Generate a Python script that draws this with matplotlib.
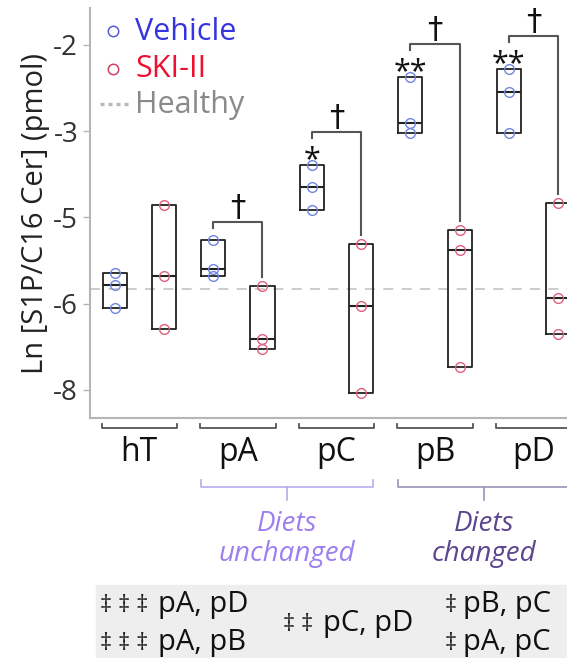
import numpy as np
import matplotlib
matplotlib.use("Agg")
import matplotlib.pyplot as plt
from matplotlib.transforms import blended_transform_factory

plt.rcParams['font.family'] = ['Open Sans', 'DejaVu Sans']

# ---------------- data ----------------
categories = ["hT", "pA", "pC", "pB", "pD"]
vehicle = [[-5.64, -5.78, -6.11],
           [-5.26, -5.60, -5.68],
           [-3.78, -4.30, -4.83],
           [-2.37, -2.91, -3.03],
           [-2.28, -2.54, -3.03]]
ski = [[-4.71, -5.68, -6.59],
       [-5.79, -6.82, -7.05],
       [-5.31, -6.05, -8.06],
       [-5.14, -5.38, -7.46],
       [-4.66, -5.93, -6.71]]
healthy = -5.83
stars = ["", "", "*", "**", "**"]
daggers = ["", "†", "†", "†", "†"]
ytick_vals = [-2, -3, -5, -6, -8]
legend_labels = ["Vehicle", "SKI-II", "Healthy"]
group_labels = ["Diets\nunchanged", "Diets\nchanged"]
group_members = [["pA", "pC"], ["pB", "pD"]]
footer_left = [("‡ ‡ ‡", "pA, pD"), ("‡ ‡ ‡", "pA, pB")]
footer_mid = [("‡ ‡", "pC, pD")]
footer_right = [("‡", "pB, pC"), ("‡", "pA, pC")]

# ---------------- scale ----------------
_v = [-10, -8, -6, -5, -3, -2, 0]
_p = [-1, 0, 1, 2, 3, 4, 6]
def fwd(v):
    return np.interp(v, _v, _p)
def inv(p):
    return np.interp(p, _p, _v)

W, H = 567, 658
fig = plt.figure(figsize=(W/100, H/100), dpi=100)
AX_L, AX_T, AX_B = 90, 8, 418
ax = fig.add_axes([AX_L/W, (H-AX_B)/H, 1 - AX_L/W, (AX_B-AX_T)/H])
ax.set_yscale('function', functions=(fwd, inv))
ax.set_ylim(-8.65, -1.571)
ax.set_xlim(-0.5, 4.34)

def axy(py):  # pixel row -> axes fraction
    return (AX_B - py) / (AX_B - AX_T)
def axx(px):
    return (px - AX_L) / (W - AX_L)

vcol_pt = "#6f86df"
scol_pt = "#e0607c"
off = 0.25
bw = 0.245

def stats(d):
    d = np.sort(np.asarray(d))
    return dict(med=np.median(d), q1=d.min(), q3=d.max(), whislo=d.min(), whishi=d.max(), fliers=[])

x = np.arange(len(categories))
vstats = [stats(d) for d in vehicle]
sstats = [stats(d) for d in ski]
bprops = dict(color='#222222', linewidth=1.3)
for st, pos in ((vstats, x - off), (sstats, x + off)):
    ax.bxp(st, positions=pos, widths=bw, showcaps=False, showfliers=False,
           boxprops=bprops, medianprops=dict(color='#222222', linewidth=1.5),
           whiskerprops=dict(linewidth=0), manage_ticks=False)

for i in range(len(categories)):
    ax.plot([x[i] - off] * len(vehicle[i]), vehicle[i], 'o', mfc='none', mec=vcol_pt, ms=7, mew=1.0, zorder=5)
    ax.plot([x[i] + off] * len(ski[i]), ski[i], 'o', mfc='none', mec=scol_pt, ms=7, mew=1.0, zorder=5)

ax.axhline(healthy, color='#c4c4c4', lw=1.2, ls=(0, (6, 5)), zorder=0)

# spines & ticks
for s in ['top', 'right']:
    ax.spines[s].set_visible(False)
for s in ['left', 'bottom']:
    ax.spines[s].set_color('#b5b5b5')
    ax.spines[s].set_linewidth(1.5)
ax.set_yticks(ytick_vals)
ax.set_yticklabels([str(v) for v in ytick_vals])
ax.yaxis.set_minor_locator(matplotlib.ticker.NullLocator())
ax.tick_params(axis='y', colors='#b5b5b5', labelcolor='#333333', labelsize=20, length=5, width=1)
ax.set_xticks(x)
ax.set_xticklabels(categories)
ax.tick_params(axis='x', length=0, labelsize=23, pad=13, labelcolor='#111111')
ax.set_ylabel("Ln [S1P/C16 Cer] (pmol)", fontsize=21, color='#222222', labelpad=2)

# category brackets below axis
trb = blended_transform_factory(ax.transData, ax.transAxes)
for i in x:
    l, r = i - off - bw/2 - 0.01, i + off + bw/2 + 0.01
    ax.plot([l, l, r, r], [-0.014, -0.025, -0.025, -0.014], color='#555555', lw=1.3,
            transform=trb, clip_on=False)

# group brackets
gcols_line = ['#b3aee6', '#9a94b8']
gcols_txt = ['#9d7ff0', '#5b4690']
for g, (lab, mem) in enumerate(zip(group_labels, group_members)):
    i0 = categories.index(mem[0]); i1 = categories.index(mem[1])
    l, r = i0 - off - bw/2, i1 + off + bw/2
    c = (l + r) / 2
    ax.plot([l, l, r, r], [-0.152, -0.168, -0.168, -0.152], color=gcols_line[g], lw=1.2,
            transform=trb, clip_on=False)
    ax.plot([c, c], [-0.168, -0.2], color=gcols_line[g], lw=1.2, transform=trb, clip_on=False)
    ax.text(c, axy(539), lab, transform=trb, ha='center', va='center', fontsize=20,
            style='italic', color=gcols_txt[g], linespacing=1.12)

# significance brackets
fig.canvas.draw()
td = ax.transData
tinv = td.inverted()
for i in range(len(categories)):
    if not daggers[i]:
        continue
    xv, xs = x[i] - off, x[i] + off
    pv = td.transform((xv, max(vehicle[i])))
    ps = td.transform((xs, max(ski[i])))
    lift = 33 if stars[i] else 18
    ytop = pv[1] + lift
    pts = [(pv[0], ytop - 6), (pv[0], ytop), (ps[0], ytop), (ps[0], ps[1] + 9)]
    dpts = tinv.transform(pts)
    ax.plot(dpts[:, 0], dpts[:, 1], color='#555555', lw=1.5, clip_on=False, zorder=4)
    mid = tinv.transform(((pv[0] + ps[0]) / 2, ytop + 6))
    ax.text(mid[0], mid[1], daggers[i], ha='center', va='baseline', fontsize=22,
            family='DejaVu Sans', color='#111111')
    if stars[i]:
        sp = tinv.transform((pv[0], pv[1] - 3))
        ax.text(sp[0], sp[1], stars[i], ha='center', va='baseline', fontsize=22, color='#111111')

# legend (drawn manually)
leg_cols_txt = ['#3535e0', '#ee1030', '#8a8a8a']
leg_cols_mk = ['#5a5ad8', '#d04060']
leg_base = [40, 77, 113]
leg_mid = [31, 69, 104]
for k, lab in enumerate(legend_labels):
    if k < 2:
        ax.plot([axx(113)], [axy(leg_mid[k])], 'o', mfc='none', mec=leg_cols_mk[k], ms=7.5, mew=1.1,
                transform=ax.transAxes, clip_on=False)
    else:
        ax.plot([axx(100), axx(132)], [axy(leg_mid[k])] * 2, color='#b8b8b8', ls=(0, (1.2, 1.2)),
                lw=2.4, transform=ax.transAxes, clip_on=False)
    ax.text(axx(135), axy(leg_base[k]), lab, transform=ax.transAxes, ha='left', va='baseline',
            fontsize=22, color=leg_cols_txt[k])

# footer panel
fig.patches.append(matplotlib.patches.Rectangle((96/W, 0), 1 - 96/W, (H-585)/H,
                   transform=fig.transFigure, color='#eeeeee', zorder=0))
def footer(items, x0, x1, rows):
    for (dg, txt), py in zip(items, rows):
        fig.text(x0/W, 1 - py/H, dg, ha='left', va='baseline', fontsize=17, color='#222222')
        fig.text(x1/W, 1 - py/H, txt, ha='left', va='baseline', fontsize=21, color='#111111')
footer(footer_left, 100, 158, [612, 650])
footer(footer_mid, 283, 323, [631])
footer(footer_right, 445, 463, [612, 650])

fig.savefig("out.png", dpi=100)
